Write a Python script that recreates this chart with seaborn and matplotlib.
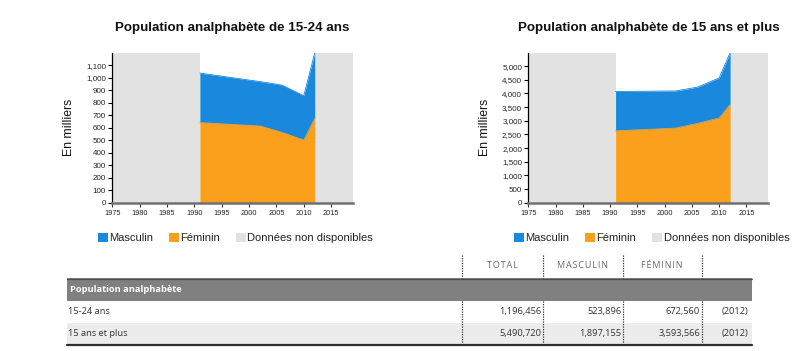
import matplotlib
matplotlib.use("Agg")
import matplotlib.pyplot as plt
import seaborn as sns
import pandas as pd
from matplotlib.patches import Patch, Rectangle
from matplotlib.lines import Line2D
from matplotlib.ticker import FuncFormatter, MultipleLocator

# ---------------- data ----------------
years = [1991, 2002, 2006, 2010, 2012]
youth_female = [640, 613, 562, 500, 672.560]
youth_male = [396, 355, 378, 355, 523.896]
adult_female = [2630, 2730, 2900, 3100, 3593.566]
adult_male = [1441, 1360, 1330, 1470, 1897.155]

x_start, x_end = 1975, 2019
xticks = [1975, 1980, 1985, 1990, 1995, 2000, 2005, 2010, 2015]
youth_step = 100
adult_step = 500

titles = ["Population analphabète de 15-24 ans",
          "Population analphabète de 15 ans et plus"]
ylabel = "En milliers"
legend_labels = ["Masculin", "Féminin", "Données non disponibles"]

table_cols = ["TOTAL", "MASCULIN", "FÉMININ"]
table_section = "Population analphabète"
table_rows = ["15-24 ans", "15 ans et plus"]
table_total = ["1,196,456", "5,490,720"]
table_male = ["523,896", "1,897,155"]
table_female = ["672,560", "3,593,566"]
table_year = ["(2012)", "(2012)"]

# ---------------- style ----------------
BLUE = "#1a88dc"
ORANGE = "#fba01c"
GRAY = "#e2e2e2"

sns.set_style("white")
plt.rcParams["font.family"] = ["Liberation Sans", "DejaVu Sans"]

W, H = 810, 351
fig = plt.figure(figsize=(W / 100, H / 100), dpi=100)


def fx(x):
    return x / W


def fy(y):
    return 1 - y / H


def draw_panel(rect, female, male, step, title, title_cx, legend_x):
    ax = fig.add_axes(rect)
    df = pd.DataFrame({"year": years, "female": female,
                       "total": [f + m for f, m in zip(female, male)]})
    ax.fill_between(df["year"], 0, df["female"], color=ORANGE, lw=0, zorder=2)
    ax.fill_between(df["year"], df["female"], df["total"], color=BLUE, lw=0, zorder=2)
    sns.lineplot(data=df, x="year", y="total", color=BLUE, lw=0.6, ax=ax, zorder=3)
    sns.lineplot(data=df, x="year", y="female", color=ORANGE, lw=0.6, ax=ax, zorder=3)
    ax.axvspan(x_start, years[0], color=GRAY, lw=0, zorder=1)
    ax.axvspan(years[-1], x_end, color=GRAY, lw=0, zorder=1)
    ax.set_xlim(x_start, x_end)
    ax.set_ylim(0, max(df["total"]))
    ax.set_xticks(xticks)
    ax.yaxis.set_major_locator(MultipleLocator(step))
    ax.yaxis.set_major_formatter(FuncFormatter(lambda v, p: f"{int(v):,}"))
    ax.set_xlabel("")
    ax.set_ylabel(ylabel, fontsize=8.8, labelpad=8, color="#111111")
    for s in ["top", "right"]:
        ax.spines[s].set_visible(False)
    ax.spines["left"].set_color("black")
    ax.spines["left"].set_linewidth(0.9)
    ax.spines["bottom"].set_color("#707070")
    ax.spines["bottom"].set_linewidth(1.8)
    ax.tick_params(axis="y", direction="out", length=3, width=0.8, color="black",
                   labelsize=5.8, pad=1.5, left=True)
    ax.tick_params(axis="x", direction="out", length=3, width=0.8, color="#333333",
                   labelsize=5.3, pad=2, bottom=True)
    ax.set_facecolor("white")
    fig.text(fx(title_cx), fy(28.5), title, ha="center", va="center",
             fontsize=9.6, fontweight="bold", color="#111111")
    handles = [Patch(facecolor=BLUE, lw=0), Patch(facecolor=ORANGE, lw=0),
               Patch(facecolor=GRAY, lw=0)]
    fig.legend(handles, legend_labels, loc="center left",
               bbox_to_anchor=(fx(legend_x), fy(238)), ncol=3, frameon=False,
               fontsize=8.0, handlelength=0.9, handleheight=0.9,
               handletextpad=0.12, columnspacing=1.45, borderpad=0,
               borderaxespad=0, labelcolor="#222222")
    return ax


draw_panel([fx(112.3), fy(202.7), fx(353 - 112.3), (202.7 - 53) / H],
           youth_female, youth_male, youth_step, titles[0], 232.5, 97.5)
draw_panel([fx(528.3), fy(202.7), fx(768.3 - 528.3), (202.7 - 52.7) / H],
           adult_female, adult_male, adult_step, titles[1], 649, 513.8)

# ---------------- table ----------------
TF = ["Open Sans", "DejaVu Sans"]
x0, x1 = 66.7, 751.7
col_edges = [461.7, 542.7, 622.7, 701.7]


def add_rect(xa, ya, xb, yb, color):
    fig.add_artist(Rectangle((fx(xa), fy(yb)), fx(xb - xa), (yb - ya) / H,
                             facecolor=color, edgecolor="none",
                             transform=fig.transFigure))


def add_line(xa, ya, xb, yb, color, lw, ls="-"):
    fig.add_artist(Line2D([fx(xa), fx(xb)], [fy(ya), fy(yb)], color=color,
                          lw=lw, ls=ls, transform=fig.transFigure))


# section band
add_rect(x0, 278.3, x1, 300.7, "#808080")
add_line(x0, 278.6, x1, 278.6, "#4f4f4f", 0.9)
fig.text(fx(69.5), fy(289.5), table_section, ha="left", va="center",
         fontsize=6.7, fontweight="bold", color="white", family=TF)
# second row background
add_rect(x0, 322.7, x1, 344.0, "#ececec")
add_line(x0, 344.6, x1, 344.6, "#2e2e2e", 1.6)

# header
for i, name in enumerate(table_cols):
    cx = (col_edges[i] + col_edges[i + 1]) / 2
    fig.text(fx(cx), fy(266), "\u200a".join(name), ha="center", va="center",
             fontsize=6.5, color="#6a6a6a", family=TF)

# dotted separators
for xe in col_edges:
    add_line(xe, 255, xe, 278.3, "#333333", 0.9, (0, (1, 1)))
    add_line(xe, 300.7, xe, 343.8, "#333333", 0.9, (0, (1, 1)))

row_y = [311.7, 333.3]
for r in range(len(table_rows)):
    y = row_y[r]
    fig.text(fx(68), fy(y), table_rows[r], ha="left", va="center",
             fontsize=6.7, color="#333333", family=TF)
    vals = [table_total[r], table_male[r], table_female[r]]
    for i, v in enumerate(vals):
        fig.text(fx(col_edges[i + 1] - 1.5), fy(y), v, ha="right", va="center",
                 fontsize=6.7, color="#333333", family=TF)
    fig.text(fx(748.5), fy(y), table_year[r], ha="right", va="center",
             fontsize=6.7, color="#333333", family=TF)

fig.savefig("out.png", dpi=100)
